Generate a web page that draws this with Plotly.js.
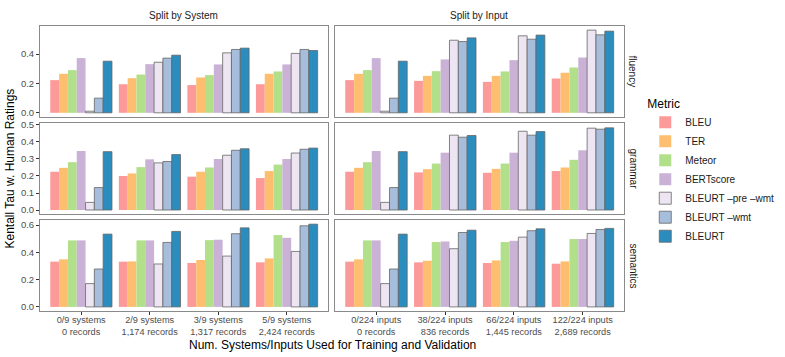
<!DOCTYPE html>
<html>
<head>
<meta charset="utf-8">
<script src="https://cdn.plot.ly/plotly-3.0.1.min.js"></script>
<style>
  html, body { margin: 0; padding: 0; background: white; }
  #chart { width: 785px; height: 357px; }
</style>
</head>
<body>
<div id="chart"></div>
<script>
// categories
var metrics = ['BLEU', 'TER', 'Meteor', 'BERTscore', 'BLEURT \u2013pre \u2013wmt', 'BLEURT \u2013wmt', 'BLEURT'];
var systemLabels = ['0/9 systems<br>0 records', '2/9 systems<br>1,174 records', '3/9 systems<br>1,317 records', '5/9 systems<br>2,424 records'];
var inputLabels = ['0/224 inputs<br>0 records', '38/224 inputs<br>836 records', '66/224 inputs<br>1,445 records', '122/224 inputs<br>2,689 records'];

// one row per metric, one value per x group
var fluencySystem = [
  [0.223, 0.195, 0.189, 0.195],
  [0.266, 0.236, 0.241, 0.266],
  [0.291, 0.261, 0.257, 0.282],
  [0.373, 0.332, 0.330, 0.330],
  [0.011, 0.345, 0.409, 0.405],
  [0.100, 0.373, 0.432, 0.432],
  [0.352, 0.393, 0.441, 0.425]
];
var fluencyInput = [
  [0.223, 0.218, 0.211, 0.234],
  [0.266, 0.252, 0.252, 0.273],
  [0.291, 0.284, 0.282, 0.309],
  [0.373, 0.364, 0.359, 0.377],
  [0.011, 0.495, 0.525, 0.564],
  [0.100, 0.486, 0.502, 0.532],
  [0.352, 0.511, 0.530, 0.557]
];
var grammarSystem = [
  [0.225, 0.200, 0.196, 0.188],
  [0.248, 0.215, 0.225, 0.229],
  [0.281, 0.252, 0.250, 0.267],
  [0.347, 0.298, 0.300, 0.300],
  [0.045, 0.277, 0.322, 0.335],
  [0.132, 0.285, 0.351, 0.357],
  [0.343, 0.326, 0.360, 0.364]
];
var grammarInput = [
  [0.225, 0.221, 0.219, 0.229],
  [0.248, 0.240, 0.242, 0.250],
  [0.281, 0.273, 0.273, 0.295],
  [0.347, 0.337, 0.337, 0.351],
  [0.045, 0.440, 0.463, 0.481],
  [0.132, 0.428, 0.440, 0.475],
  [0.343, 0.438, 0.461, 0.483]
];
var semanticsSystem = [
  [0.332, 0.332, 0.322, 0.327],
  [0.349, 0.334, 0.344, 0.356],
  [0.488, 0.488, 0.490, 0.527],
  [0.488, 0.488, 0.493, 0.507],
  [0.171, 0.315, 0.373, 0.407],
  [0.278, 0.473, 0.537, 0.595],
  [0.534, 0.554, 0.580, 0.607]
];
var semanticsInput = [
  [0.332, 0.327, 0.322, 0.317],
  [0.349, 0.339, 0.341, 0.334],
  [0.488, 0.476, 0.476, 0.498],
  [0.488, 0.480, 0.485, 0.498],
  [0.171, 0.427, 0.512, 0.539],
  [0.278, 0.546, 0.559, 0.568],
  [0.534, 0.563, 0.573, 0.576]
];

var colors = ['#fb9a99', '#fdbf6f', '#b2df8a', '#cab2d6', '#ede6f2', '#a6bddb', '#2b8cbe'];
var outline = [0, 0, 0, 0, 1, 1, 1];

var facets = [
  {data: fluencySystem, labels: systemLabels, ax: ''},
  {data: fluencyInput, labels: inputLabels, ax: '2'},
  {data: grammarSystem, labels: systemLabels, ax: '3'},
  {data: grammarInput, labels: inputLabels, ax: '4'},
  {data: semanticsSystem, labels: systemLabels, ax: '5'},
  {data: semanticsInput, labels: inputLabels, ax: '6'}
];

var traces = [];
facets.forEach(function (f, fi) {
  f.data.forEach(function (vals, mi) {
    traces.push({
      type: 'bar',
      x: f.labels,
      y: vals,
      name: metrics[mi],
      showlegend: fi === 0,
      xaxis: 'x' + f.ax,
      yaxis: 'y' + f.ax,
      marker: {
        color: colors[mi],
        line: {color: outline[mi] ? '#666666' : 'rgba(0,0,0,0)', width: outline[mi] ? 0.8 : 0}
      },
      hoverinfo: 'x+y+name'
    });
  });
});

var fam = 'Liberation Sans, Arial, sans-serif';
var tickFont = {family: fam, size: 9.5, color: '#4d4d4d'};

function xAxis(domain, anchor, showLabels) {
  return {
    domain: domain, anchor: anchor, type: 'category',
    range: [-0.6, 3.6], showgrid: false, zeroline: false,
    showline: true, mirror: true, linecolor: '#8a8a8a', linewidth: 1,
    ticks: showLabels ? 'outside' : '', ticklen: 3, tickcolor: '#333333',
    showticklabels: showLabels, tickfont: {family: fam, size: 9.2, color: '#4d4d4d'},
    ticklabelstandoff: -3, automargin: false
  };
}
function yAxis(domain, anchor, range, dtick, showLabels) {
  return {
    domain: domain, anchor: anchor, range: range, dtick: dtick, tick0: 0,
    tickformat: '.1f', showgrid: false, zeroline: false,
    showline: true, mirror: true, linecolor: '#8a8a8a', linewidth: 1,
    ticks: showLabels ? 'outside' : '', ticklen: 3, tickcolor: '#333333',
    showticklabels: showLabels, tickfont: tickFont, automargin: false
  };
}

var colL = [0, 0.493], colR = [0.505, 1];
var row1 = [0.681, 1], row2 = [0.340, 0.660], row3 = [0, 0.319];
var r1 = [-0.028, 0.592], r2 = [-0.024, 0.512], r3 = [-0.030, 0.637];

var textFont = {family: fam, size: 10, color: '#1a1a1a'};
var titleFont = {family: fam, size: 12, color: '#000000'};

function note(text, x, y, dx, dy, angle, font) {
  return {text: text, xref: 'paper', yref: 'paper', x: x, y: y, xshift: dx, yshift: dy,
          xanchor: 'center', yanchor: 'middle', textangle: angle, showarrow: false, font: font};
}

var layout = {
  width: 785, height: 357,
  margin: {l: 40, r: 161, t: 26, b: 46},
  paper_bgcolor: 'white', plot_bgcolor: 'white',
  barmode: 'group', bargap: 0.1, bargroupgap: 0,
  font: {family: fam},
  xaxis: xAxis(colL, 'y', false),
  xaxis2: xAxis(colR, 'y2', false),
  xaxis3: xAxis(colL, 'y3', false),
  xaxis4: xAxis(colR, 'y4', false),
  xaxis5: xAxis(colL, 'y5', true),
  xaxis6: xAxis(colR, 'y6', true),
  yaxis: yAxis(row1, 'x', r1, 0.2, true),
  yaxis2: yAxis(row1, 'x2', r1, 0.2, false),
  yaxis3: yAxis(row2, 'x3', r2, 0.1, true),
  yaxis4: yAxis(row2, 'x4', r2, 0.1, false),
  yaxis5: yAxis(row3, 'x5', r3, 0.2, true),
  yaxis6: yAxis(row3, 'x6', r3, 0.2, false),
  legend: {
    xref: 'container', yref: 'container',
    x: 0.822, y: 0.742, xanchor: 'left', yanchor: 'top',
    title: {text: 'Metric', font: {family: fam, size: 12, color: '#000'}},
    font: {family: fam, size: 10, color: '#1a1a1a'},
    tracegroupgap: 0, itemwidth: 30
  },
  annotations: [
    note('Split by System', 0.2465, 1, 0, 11, 0, textFont),
    note('Split by Input', 0.7525, 1, 0, 11, 0, textFont),
    note('fluency', 1, 0.8405, 9, 0, 90, textFont),
    note('grammar', 1, 0.50, 9, 0, 90, textFont),
    note('semantics', 1, 0.1595, 9, 0, 90, textFont),
    note('Kentall Tau w. Human Ratings', 0, 0.5, -31, 0, -90, titleFont),
    note('Num. Systems/Inputs Used for Training and Validation', 0.5, 0, 0, -34, 0, titleFont)
  ]
};

Plotly.newPlot('chart', traces, layout, {displayModeBar: false, staticPlot: true});
</script>
</body>
</html>
